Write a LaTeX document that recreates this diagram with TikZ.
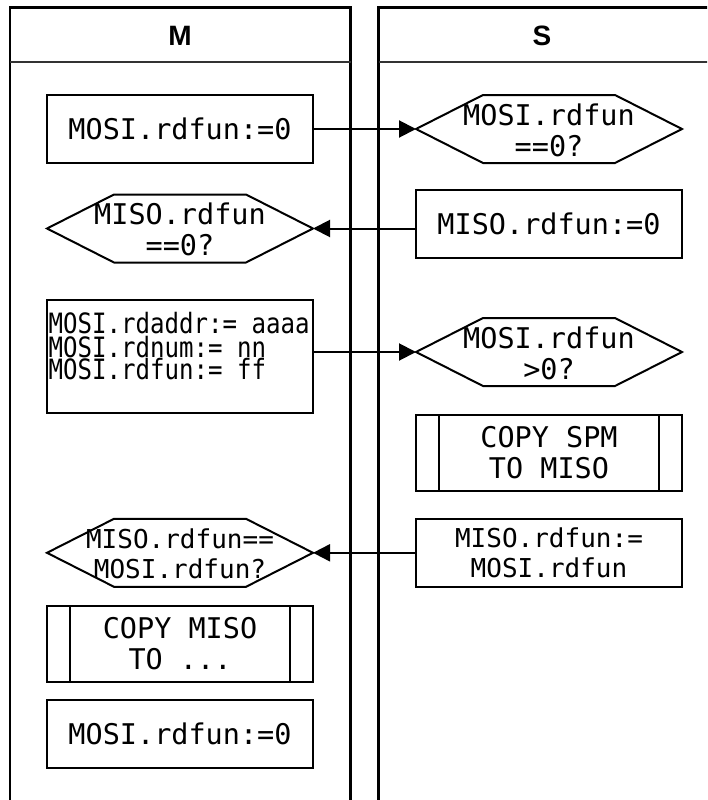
\documentclass[tikz,border=0pt]{standalone}
\usepackage{fontspec}
\setmainfont{Liberation Sans}
\newfontfamily\monofam{DejaVu Sans Mono}
\usetikzlibrary{arrows.meta,calc}
\tikzset{
  lane/.style={line width=2.5pt, draw=black},
  hdrline/.style={line width=2pt, draw=black!80},
  hdr/.style={font=\bfseries\fontsize{28}{32}\selectfont, inner sep=0pt},
  bigfont/.style={font=\monofam\fontsize{28.5}{31}\selectfont},
  midfont/.style={font=\monofam\fontsize{26}{30}\selectfont},
  smalltxt/.style={anchor=base west, inner sep=0pt, font=\monofam\fontsize{28}{28}\selectfont},
  proc/.style={draw, line width=2pt, minimum width=266pt, minimum height=68pt, inner sep=0pt, align=center, bigfont},
  txt/.style={inner sep=0pt, align=center, bigfont},
  predef/.style={proc, minimum height=76pt,
    path picture={\draw[line width=2pt]
      ([xshift=23pt]path picture bounding box.north west) -- ([xshift=23pt]path picture bounding box.south west)
      ([xshift=-23pt]path picture bounding box.north east) -- ([xshift=-23pt]path picture bounding box.south east);}},
  hexp/.pic={\draw[line width=2pt] (-133,0) coordinate (-w) -- (-66,-34) -- (66,-34) -- (133,0) coordinate (-e) -- (66,34) -- (-66,34) -- cycle;},
  arr/.style={line width=2pt, -{Triangle[length=17pt,width=17pt]}},
}
\begin{document}
\begin{tikzpicture}[x=1pt,y=-1pt]
\useasboundingbox (0,0) rectangle (707,800);
\clip (0,0) rectangle (707,800);
% lanes
\draw[lane] (10,820) -- (10,7.5) -- (350.5,7.5) -- (350.5,820);
\draw[hdrline] (10,62) -- (350.5,62);
\draw[lane] (378.7,820) -- (378.7,7.5) -- (720,7.5) -- (720,820);
\draw[hdrline] (378.7,62) -- (720,62);
\node[hdr] (hM) at (180,36) {M};
\node[hdr] (hS) at (542,36) {S};
% left column
\node[proc] (b1) at (180,129) {MOSI.rdfun:=0};
\pic (hB) at (180,228.5) {hexp};
\node[txt] (hBt) at (180,229.5) {MISO.rdfun\\==0?};
\node[draw, line width=2pt, minimum width=266pt, minimum height=113pt, inner sep=0pt] (b3) at (180.3,356.7) {};
\node[smalltxt] (b3a) at (48.5,333.3) {\scalebox{0.86}[1]{MOSI.rdaddr:= aaaa}};
\node[smalltxt] (b3b) at (48.5,357) {\scalebox{0.86}[1]{MOSI.rdnum:= nn}};
\node[smalltxt] (b3c) at (48.5,379.5) {\scalebox{0.86}[1]{MOSI.rdfun:= ff}};
\pic (hD) at (180,552.8) {hexp};
\node[txt, midfont] (hDt) at (180,554) {MISO.rdfun==\\MOSI.rdfun?};
\node[predef] (pB) at (180,644) {COPY MISO\\TO ...};
\node[proc] (b5) at (180,733.5) {MOSI.rdfun:=0};
% right column
\pic (hA) at (549,129) {hexp};
\node[txt] (hAt) at (549,130) {MOSI.rdfun\\==0?};
\node[proc] (b2) at (549,224.2) {MISO.rdfun:=0};
\pic (hC) at (549,352) {hexp};
\node[txt] (hCt) at (549,353) {MOSI.rdfun\\>0?};
\node[predef] (pA) at (549,453) {COPY SPM\\TO MISO};
\node[proc, midfont] (b4) at (549,552.7) {MISO.rdfun:=\\MOSI.rdfun};
% connectors
\draw[arr] (b1.east) -- (hA-w);
\draw[arr] (b2.west |- hB-e) -- (hB-e);
\draw[arr] (b3.east |- hC-w) -- (hC-w);
\draw[arr] (b4.west |- hD-e) -- (hD-e);
\end{tikzpicture}
\end{document}
